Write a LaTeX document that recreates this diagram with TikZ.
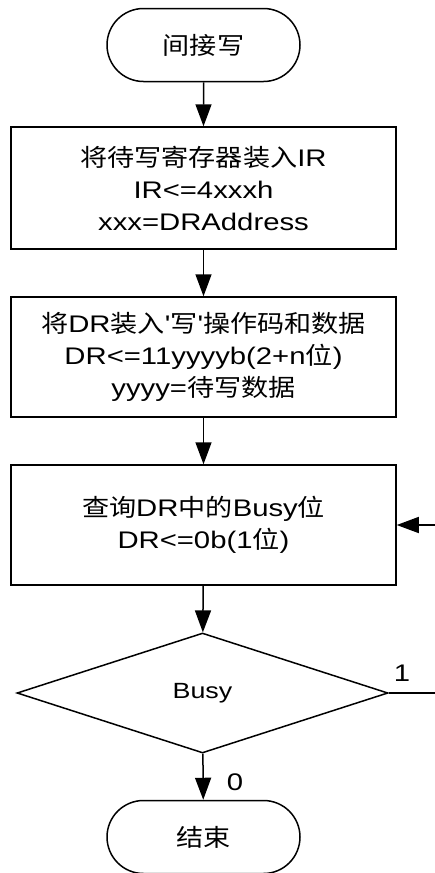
\documentclass[tikz,border=0pt]{standalone}
\usepackage{fontspec}
\newfontfamily\latin{Liberation Sans}[FakeStretch=1.22]
\newfontfamily\cjk{Noto Sans CJK SC}[FakeStretch=1.13]
\usetikzlibrary{arrows.meta,shapes.misc,shapes.geometric}
\newcommand\zh[1]{{\cjk #1}}
\begin{document}
\begin{tikzpicture}[x=1pt,y=-1pt,
  line width=1.5pt,
  every node/.style={font=\latin\fontsize{24}{32}\selectfont, align=center},
  term/.style={draw, rounded rectangle, minimum width=193pt, minimum height=73pt, inner sep=0pt},
  proc/.style={draw, rectangle, minimum width=385pt, inner sep=0pt},
  dec/.style={draw, diamond, minimum width=371pt, minimum height=120pt, inner sep=0pt, font=\latin\fontsize{22}{28}\selectfont},
  flow/.style={-{Triangle[length=22pt,width=16pt]}},
  lbl/.style={inner sep=0pt}]
\useasboundingbox (0,0) rectangle (435,873);
\node[term] (start) at (203.5,45) {\zh{间接写}};
\node[proc, minimum height=122pt] (b1) at (203.5,188) {\zh{将待写寄存器装入}IR\\IR<=4xxxh\\xxx=DRAddress};
\node[proc, minimum height=120pt] (b2) at (203.5,357) {\zh{将}DR\zh{装入}'\zh{写}'\zh{操作码和数据}\\DR<=11yyyyb(2+n\zh{位})\\yyyy=\zh{待写数据}};
\node[proc, minimum height=120pt] (b3) at (203.5,525) {\zh{查询}DR\zh{中的}Busy\zh{位}\\DR<=0b(1\zh{位})};
\node[dec] (d) at (202.5,693) {Busy};
\node[term] (end) at (203.5,837) {\zh{结束}};
\coordinate (r1) at (435,693);
\coordinate (r2) at (435,525);
\draw[flow] (start) -- (b1);
\draw[flow] (b1) -- (b2);
\draw[flow] (b2) -- (b3);
\draw[flow] (b3) -- (d);
\draw[flow] (d) -- (end);
\draw (d.east) -- (r1);
\draw[flow] (r2) -- (b3.east);
\node[lbl] (one) at (402,673) {1};
\node[lbl] (zero) at (235,782) {0};
\end{tikzpicture}
\end{document}
